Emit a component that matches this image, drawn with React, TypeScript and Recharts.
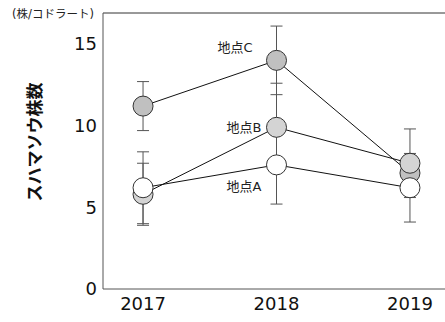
import React from 'react';
import {
  LineChart,
  Line,
  XAxis,
  YAxis,
  ErrorBar,
  LabelList,
  ReferenceLine,
  Label,
} from 'recharts';

// Survey years
const years = [2017, 2018, 2019];

// Mean plant count per quadrat, by site
const siteA = [6.2, 7.6, 6.2];
const siteB = [5.8, 9.9, 7.7];
const siteC = [11.2, 14.0, 7.1];

// Error bar half-widths
const errA = [2.2, 2.4, 2.1];
const errB = [1.9, 2.7, 2.1];
const errC = [1.5, 2.1, 0.9];

const yTicks = [0, 5, 10, 15];
const yMax = 16.9;

const siteNames = { A: '地点A', B: '地点B', C: '地点C' };

const data = years.map((year, i) => ({
  year,
  A: siteA[i],
  B: siteB[i],
  C: siteC[i],
  errA: errA[i],
  errB: errB[i],
  errC: errC[i],
}));

const FONT = '"DejaVu Sans", "Noto Sans CJK JP", sans-serif';

// Site name placed next to the 2018 point of each series
const siteLabel = (text: string, dx: number, dy: number) => (props: any) => {
  if (props.index !== 1) return null;
  return (
    <text
      x={props.x + dx}
      y={props.y + dy}
      textAnchor="end"
      dominantBaseline="central"
      fontSize={13}
      fontFamily={FONT}
      fill="#222"
    >
      {text}
    </text>
  );
};

const AxisTitles = () => (
  <g>
    <text
      x={35}
      y={142}
      transform="rotate(-90 35 142)"
      textAnchor="middle"
      dominantBaseline="central"
      fontSize={17}
      fontWeight="bold"
      fontFamily={FONT}
      fill="#111"
    >
      スハマソウ株数
    </text>
    <text
      x={53}
      y={14}
      textAnchor="middle"
      dominantBaseline="central"
      fontSize={11.5}
      fontFamily={FONT}
      fill="#222"
    >
      (株/コドラート)
    </text>
  </g>
);

const dotStyle = (fill: string) => ({
  r: 10,
  fill,
  stroke: '#333',
  strokeWidth: 1,
});

export default function App() {
  return (
    <div
      style={{
        position: 'absolute',
        left: 0,
        top: 0,
        width: 445,
        height: 322,
        overflow: 'hidden',
        background: '#fff',
      }}
    >
      <LineChart
        width={460}
        height={322}
        data={data}
        margin={{ top: 13, right: 10, bottom: 3, left: 0 }}
      >
        <XAxis
          dataKey="year"
          type="number"
          domain={[2016.7, 2019.3]}
          ticks={years}
          tickLine={false}
          axisLine={{ stroke: '#555', strokeWidth: 1 }}
          height={30}
          tick={{ fontSize: 18, fontFamily: FONT, fill: '#111' }}
        />
        <YAxis
          type="number"
          domain={[0, yMax]}
          ticks={yTicks}
          tickLine={false}
          tickMargin={0}
          axisLine={{ stroke: '#555', strokeWidth: 1 }}
          width={103}
          tick={{ fontSize: 18, fontFamily: FONT, fill: '#111' }}
        >
          <Label content={() => <AxisTitles />} />
        </YAxis>
        <ReferenceLine y={yMax} stroke="#333" strokeWidth={1} />
        <Line
          dataKey="C"
          stroke="#111"
          strokeWidth={1}
          dot={dotStyle('#c0c0c0')}
          activeDot={false}
          isAnimationActive={false}
        >
          <ErrorBar dataKey="errC" width={6} stroke="#555" strokeWidth={1} direction="y" />
          <LabelList dataKey="C" content={siteLabel(siteNames.C, -24, -13)} />
        </Line>
        <Line
          dataKey="B"
          stroke="#111"
          strokeWidth={1}
          dot={dotStyle('#d4d4d4')}
          activeDot={false}
          isAnimationActive={false}
        >
          <ErrorBar dataKey="errB" width={6} stroke="#555" strokeWidth={1} direction="y" />
          <LabelList dataKey="B" content={siteLabel(siteNames.B, -15, 0)} />
        </Line>
        <Line
          dataKey="A"
          stroke="#111"
          strokeWidth={1}
          dot={dotStyle('#ffffff')}
          activeDot={false}
          isAnimationActive={false}
        >
          <ErrorBar dataKey="errA" width={6} stroke="#555" strokeWidth={1} direction="y" />
          <LabelList dataKey="A" content={siteLabel(siteNames.A, -15, 22)} />
        </Line>
      </LineChart>
    </div>
  );
}
